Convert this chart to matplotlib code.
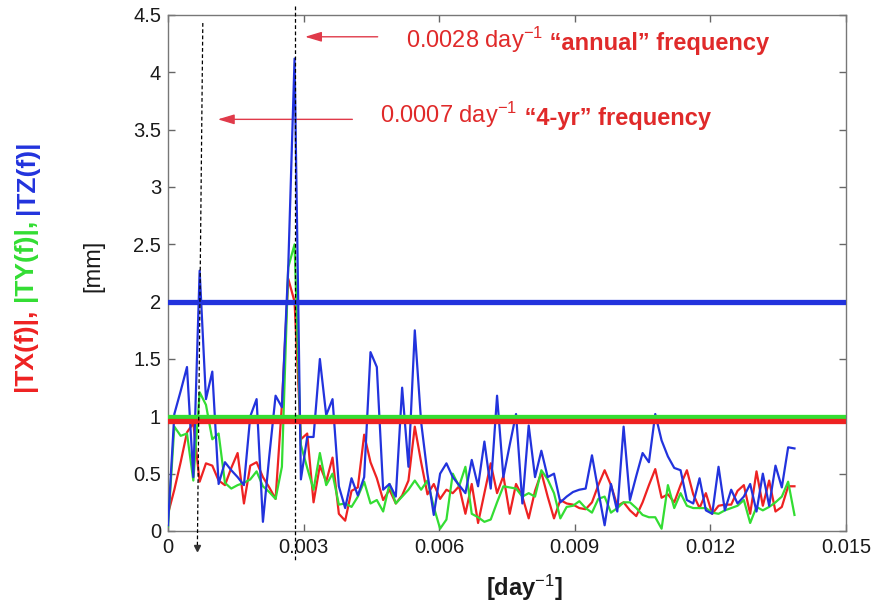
import numpy as np
import matplotlib
matplotlib.use("Agg")
import matplotlib.pyplot as plt

plt.rcParams['font.family'] = ['Liberation Sans', 'DejaVu Sans']
plt.rcParams['mathtext.fontset'] = 'custom'
plt.rcParams['mathtext.rm'] = 'Liberation Sans'
plt.rcParams['mathtext.it'] = 'Liberation Sans:italic'
plt.rcParams['mathtext.bf'] = 'Liberation Sans:bold'

# frequency grid [day^-1]
df = 0.00014
n_pts = 100
freq = np.arange(n_pts) * df

tx = [0.15, 0.36, 0.6, 0.86, 0.94, 0.43, 0.59, 0.57, 0.44, 0.4,
      0.55, 0.68, 0.24, 0.57, 0.6, 0.47, 0.38, 0.28, 1.1, 2.2,
      2.0, 0.8, 0.85, 0.25, 0.57, 0.43, 0.64, 0.15, 0.09, 0.35,
      0.38, 0.84, 0.6, 0.46, 0.27, 0.36, 0.24, 0.31, 0.44, 0.91,
      0.6, 0.32, 0.41, 0.28, 0.36, 0.33, 0.39, 0.15, 0.41, 0.07,
      0.33, 0.59, 0.33, 0.48, 0.15, 0.41, 0.3, 0.11, 0.35, 0.51,
      0.3, 0.11, 0.27, 0.24, 0.23, 0.2, 0.19, 0.25, 0.4, 0.53,
      0.4, 0.22, 0.25, 0.18, 0.13, 0.25, 0.4, 0.54, 0.29, 0.32,
      0.25, 0.4, 0.53, 0.32, 0.2, 0.33, 0.15, 0.22, 0.23, 0.23,
      0.35, 0.4, 0.15, 0.52, 0.22, 0.44, 0.17, 0.21, 0.39, 0.39]

ty = [0.04, 0.91, 0.83, 0.85, 0.44, 1.21, 1.1, 0.8, 0.85, 0.42,
      0.37, 0.4, 0.42, 0.45, 0.52, 0.39, 0.34, 0.28, 0.56, 2.3,
      2.5, 0.75, 0.55, 0.36, 0.68, 0.4, 0.5, 0.23, 0.24, 0.21,
      0.3, 0.43, 0.24, 0.27, 0.17, 0.41, 0.24, 0.3, 0.36, 0.44,
      0.36, 0.44, 0.21, 0.02, 0.1, 0.5, 0.39, 0.56, 0.15, 0.12,
      0.08, 0.1, 0.25, 0.39, 0.38, 0.37, 0.3, 0.33, 0.3, 0.53,
      0.45, 0.33, 0.11, 0.21, 0.22, 0.26, 0.2, 0.16, 0.28, 0.3,
      0.16, 0.2, 0.25, 0.25, 0.2, 0.14, 0.12, 0.12, 0.02, 0.4,
      0.2, 0.33, 0.22, 0.2, 0.2, 0.2, 0.16, 0.15, 0.18, 0.2,
      0.22, 0.27, 0.07, 0.21, 0.18, 0.21, 0.25, 0.3, 0.43, 0.14]

tz = [0.05, 1.02, 1.22, 1.43, 0.47, 2.27, 1.15, 1.39, 0.41, 0.6,
      0.53, 0.47, 0.4, 1.0, 1.15, 0.08, 0.65, 1.18, 1.08, 2.3,
      4.12, 0.45, 0.82, 0.82, 1.5, 1.01, 1.15, 0.39, 0.2, 0.46,
      0.31, 0.47, 1.56, 1.43, 0.36, 0.41, 0.3, 1.25, 0.56, 1.75,
      0.95, 0.5, 0.14, 0.5, 0.59, 0.47, 0.4, 0.33, 0.62, 0.39,
      0.78, 0.37, 1.18, 0.47, 0.75, 1.02, 0.24, 0.92, 0.47, 0.7,
      0.47, 0.5, 0.25, 0.3, 0.34, 0.36, 0.37, 0.66, 0.35, 0.05,
      0.41, 0.17, 0.91, 0.27, 0.48, 0.68, 0.6, 1.02, 0.79, 0.65,
      0.55, 0.53, 0.27, 0.24, 0.46, 0.18, 0.15, 0.56, 0.18, 0.36,
      0.24, 0.3, 0.41, 0.17, 0.5, 0.22, 0.57, 0.38, 0.73, 0.72]

# threshold levels
thr_x = 0.955
thr_y = 0.995
thr_z = 2.0

# marked frequencies
f_annual = 0.0028
f_4yr = 0.0007

xticks = [0, 0.003, 0.006, 0.009, 0.012, 0.015]
xticklabels = ['0', '0.003', '0.006', '0.009', '0.012', '0.015']
yticks = [0, 0.5, 1, 1.5, 2, 2.5, 3, 3.5, 4, 4.5]
yticklabels = ['0', '0.5', '1', '1.5', '2', '2.5', '3', '3.5', '4', '4.5']

RED = '#ee2222'
GREEN = '#33dd33'
BLUE = '#2233dd'
TXTRED = '#e02a2a'

fig = plt.figure(figsize=(8.73, 6.03), dpi=100)
ax = fig.add_axes([168 / 873, 1 - 531 / 603, (846 - 168) / 873, (531 - 15) / 603])

ax.plot(freq, tx, color=RED, lw=1.6, zorder=3)
ax.plot(freq, ty, color=GREEN, lw=1.6, zorder=3)
ax.plot(freq, tz, color=BLUE, lw=1.6, zorder=4)

ax.axhline(thr_y, color=GREEN, lw=3.8, zorder=5)
ax.axhline(thr_x, color=RED, lw=3.8, zorder=6)
ax.axhline(thr_z, color=BLUE, lw=3.8, zorder=6)

ax.set_xlim(0, 0.015)
ax.set_ylim(0, 4.5)
ax.set_xticks(xticks)
ax.set_xticklabels(xticklabels)
ax.set_yticks(yticks)
ax.set_yticklabels(yticklabels)
ax.tick_params(direction='in', top=True, right=True, length=5, width=1,
               color='#666666', labelsize=14.5, labelcolor='#1a1a1a', pad=5)
for s in ax.spines.values():
    s.set_color('#777777')
    s.set_linewidth(1.0)

# dashed vertical markers (extend beyond axes)
ax.plot([f_annual, f_annual], [4.58, -0.26], ls=(0, (3, 2)), color='black',
        lw=0.9, clip_on=False, zorder=7)
ax.plot([f_4yr + 0.00007, f_4yr - 0.00005], [4.43, -0.14], ls=(0, (3, 2)),
        color='black', lw=0.9, clip_on=False, zorder=7)
ax.plot([f_4yr - 0.00005], [-0.15], marker='v', ms=4, color='#333333',
        clip_on=False, zorder=7)

# red arrows
arrow_style = '-|>,head_length=1.0,head_width=0.3'
ax.annotate('', xy=(0.00297, 4.31), xytext=(0.0047, 4.31),
            arrowprops=dict(arrowstyle=arrow_style, color='#e03a4a', lw=1.0),
            annotation_clip=False)
ax.annotate('', xy=(0.00104, 3.59), xytext=(0.00414, 3.59),
            arrowprops=dict(arrowstyle=arrow_style, color='#e03a4a', lw=1.0),
            annotation_clip=False)

t1 = ax.text(0.00527, 4.28, '0.0028 day$^{\\mathrm{-1}}$', color=TXTRED, fontsize=17,
             va='center', ha='left')
ax.annotate(' \u201cannual\u201d frequency', xy=(1, 0), xycoords=t1,
            va='bottom', ha='left', color=TXTRED, fontsize=17, fontweight='bold')
t2 = ax.text(0.0047, 3.63, '0.0007 day$^{\\mathrm{-1}}$', color=TXTRED, fontsize=17,
             va='center', ha='left')
ax.annotate(' \u201c4-yr\u201d frequency', xy=(1, 0), xycoords=t2,
            va='bottom', ha='left', color=TXTRED, fontsize=17, fontweight='bold')

# axis labels
fig.text(524 / 873, 1 - 588 / 603, '[day$^{\\mathrm{-1}}$]', fontsize=17,
         fontweight='bold', ha='center', va='center', color='#1a1a1a')
fig.text(93 / 873, 1 - 266 / 603, '[mm]', fontsize=17, rotation=90,
         ha='center', va='center', color='#1a1a1a')

y0 = fig.text(27 / 873, 1 - 393 / 603, '|TX(f)|, ', fontsize=19, fontweight='bold',
              rotation=90, ha='center', va='bottom', color=RED)
ann1 = ax.annotate('|TY(f)|, ', xy=(0.5, 1), xycoords=y0, fontsize=19,
                   fontweight='bold', rotation=90, ha='center', va='bottom',
                   color=GREEN, annotation_clip=False)
ann2 = ax.annotate('|TZ(f)|', xy=(0.5, 1), xycoords=ann1, fontsize=19,
                   fontweight='bold', rotation=90, ha='center', va='bottom',
                   color=BLUE, annotation_clip=False)

fig.savefig('out.png', dpi=100)
